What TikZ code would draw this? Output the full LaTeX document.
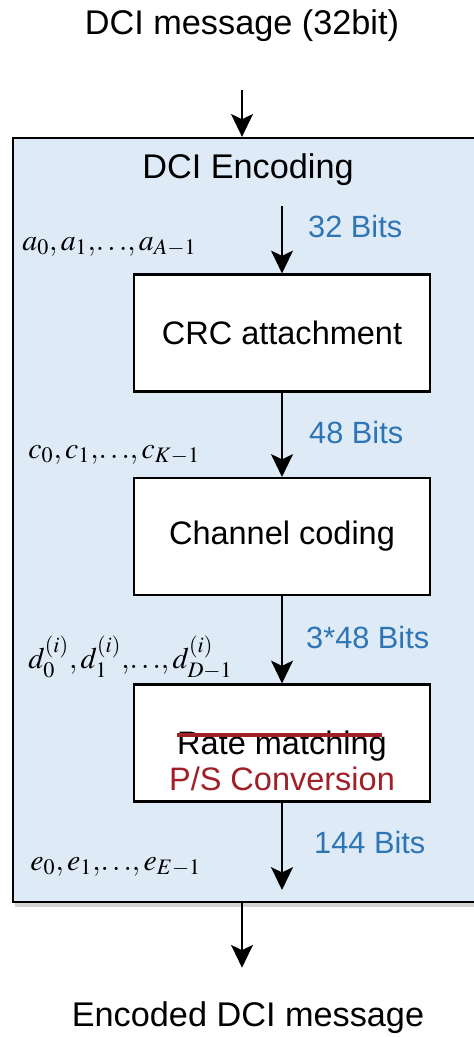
\documentclass[tikz,border=0pt]{standalone}
\usepackage{amsmath}
\usepackage{mathptmx}
\usepackage{fontspec}
\setmainfont{Liberation Sans}
\usetikzlibrary{arrows.meta,shadows}

\definecolor{encfill}{RGB}{222,235,247}
\definecolor{bitblue}{RGB}{46,117,182}
\definecolor{psred}{RGB}{160,32,40}

\tikzset{
	blk/.style={draw,line width=1.2pt,fill=white,minimum width=5.92cm,minimum height=2.34cm,
		font=\fontsize{18.5}{20}\selectfont},
	bits/.style={anchor=west,text=bitblue,font=\fontsize{17.5}{19}\selectfont},
	seq/.style={anchor=west,font=\fontsize{17}{20}\selectfont,inner sep=0pt},
	txt/.style={font=\fontsize{19.5}{22}\selectfont}
}

\begin{document}
\begin{tikzpicture}[x=0.02cm,y=-0.02cm,>={Stealth[length=13pt,width=12.5pt,inset=3pt]}]

\useasboundingbox (0,0) rectangle (473,1037);

\def\lw{1.1pt}

% outer frame
\node[draw,line width=1.4pt,fill=encfill,minimum width=9.34cm,minimum height=15.28cm,
	drop shadow={shadow xshift=1pt,shadow yshift=-3pt,opacity=0.35}] (enc) at (246.5,520) {};
\node[txt] (enctitle) at (248,170) {DCI Encoding};

\node[txt] (dci) at (242,26) {DCI message (32bit)};
\node[txt] (encout) at (248,1018) {Encoded DCI message};

% blocks
\node[blk] (crc) at (282,333) {CRC attachment};
\node[blk] (cc) at (282,536.5) {Channel coding};
\node[blk] (rm) at (282,743) {};
\node[blk,draw=none,fill=none,minimum size=0pt] (rmtxt) at (282,746) {Rate matching};
\node[blk,draw=none,fill=none,minimum size=0pt,text=psred] (ps) at (282,779) {P/S Conversion};
\draw[psred,line width=1.8pt] (177,735)--(382,735);

\coordinate (cin) at (282,206);
\coordinate (cout) at (282,890);

% connectors
\draw[->,line width=\lw,shorten <=24pt] (dci) -- (dci |- enc.north);
\draw[->,line width=\lw] (dci |- enc.south) -- ([yshift=16pt]dci |- encout.north);
\draw[->,line width=\lw] (cin) -- (crc);
\draw[->,line width=\lw] (crc) -- (cc);
\draw[->,line width=\lw] (cc) -- (rm);
\draw[->,line width=\lw] (rm) -- (cout);

% bit counts
\node[bits] (b1) at (302,227) {32 Bits};
\node[bits] (b2) at (303,433) {48 Bits};
\node[bits] (b3) at (300,638) {3*48 Bits};
\node[bits] (b4) at (308,842) {144 Bits};

% sequences
\node[seq] (sa) at (22,247) {$a_0,a_1,\!\ldots\!,a_{A-1}$};
\node[seq] (sc) at (28,455) {$c_0,c_1,\!\ldots\!,c_{K-1}$};
\node[seq] (sd) at (28,658) {$d_0^{(i)},d_1^{(i)},\!\ldots\!,d_{D-1}^{(i)}$};
\node[seq] (se) at (30,867) {$e_0,e_1,\!\ldots\!,e_{E-1}$};

\end{tikzpicture}
\end{document}
